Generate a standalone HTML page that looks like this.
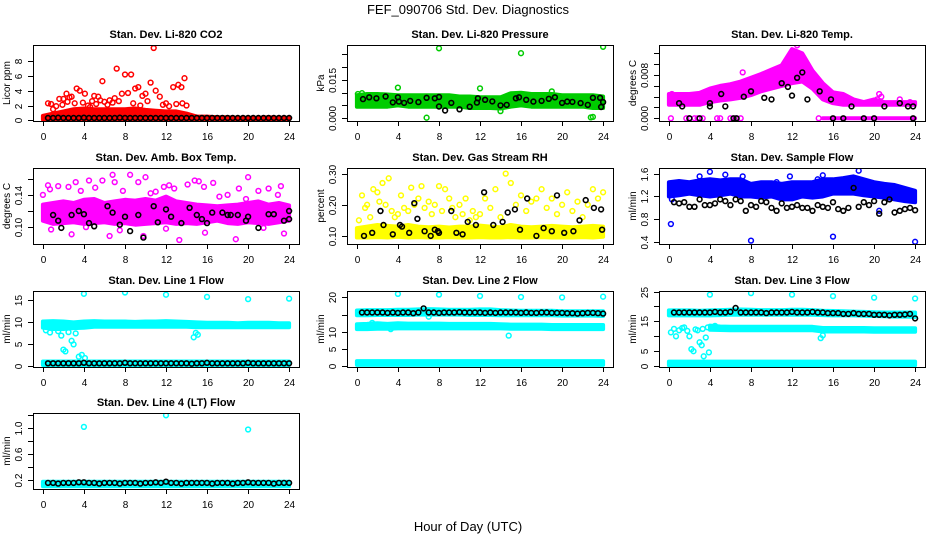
<!DOCTYPE html>
<html><head><meta charset="utf-8"><style>
html,body{margin:0;padding:0;background:#fff;}
svg{display:block;font-family:"Liberation Sans",Arial,sans-serif;}
</style></head><body>
<svg id="chart" width="936" height="540" viewBox="0 0 936 540">
<text x="468" y="14" text-anchor="middle" font-size="13">FEF_090706  Std. Dev. Diagnostics</text>
<text x="468" y="531" text-anchor="middle" font-size="13">Hour of Day (UTC)</text>
</svg>
<script>
// ---------- shared x data ----------
const hourGrid = [0,1,2,3,4,5,6,7,8,9,10,11,12,13,14,15,16,17,18,19,20,21,22,23,24];
const halfHours = [0.5,1,1.5,2,2.5,3,3.5,4,4.5,5,5.5,6,6.5,7,7.5,8,8.5,9,9.5,10,10.5,11,11.5,12,12.5,13,13.5,14,14.5,15,15.5,16,16.5,17,17.5,18,18.5,19,19.5,20,20.5,21,21.5,22,22.5,23,23.5,24];
const xTicks = [0,4,8,12,16,20,24];

// ---------- CO2 ----------
const co2BandLo = [0.1,0.1,0.1,0.1,0.1,0.1,0.1,0.1,0.1,0.1,0.1,0.1,0.1,0.1,0.1,0.1,0.1,0.1,0.1,0.1,0.1,0.1,0.1,0.1,0.1];
const co2BandHi = [0.6,0.9,1.2,1.5,1.6,1.5,1.5,1.5,1.5,1.6,1.4,1.3,1.2,1.2,0.9,0.5,0.5,0.4,0.4,0.35,0.35,0.35,0.4,0.35,0.35];
const co2ScatterX = [0.5,1,2,2.3,2.8,3.3,3.6,4.1,5,5.4,5.8,6.5,7,7.2,7.7,8,8.3,8.6,9,9.3,9.7,10,10.5,10.8,11,11.4,12,12.7,13.2,13.5,13.8,13.6,0.8,1.6,2.6,3.1,1.3,1.9,2.4,3.9,4.4,4.8,5.2,6,6.3,6.8,7.4,8.8,9.5,10.2,11.7,12.3,13,14,4.6,5.6];
const co2ScatterY = [2.3,1.5,2.9,3.6,3.2,4.3,4.0,3.6,3.3,3.2,5.3,2.7,3.0,7.0,3.6,6.2,3.7,6.2,4.3,4.5,3.3,3.6,5.1,9.8,4.0,3.2,2.3,4.5,4.8,4.5,5.7,2.3,2.2,2.9,3.1,2.3,1.9,2.1,2.5,2.4,2.0,2.6,2.2,2.5,2.1,2.4,2.6,2.3,2.0,2.6,2.1,1.9,2.2,2.0,1.8,2.7];
const co2Black = [0.3,0.3,0.35,0.3,0.3,0.3,0.3,0.35,0.3,0.3,0.3,0.3,0.3,0.3,0.35,0.3,0.3,0.3,0.3,0.3,0.3,0.3,0.3,0.3,0.3,0.3,0.3,0.3,0.3,0.3,0.3,0.3,0.3,0.3,0.3,0.3,0.3,0.3,0.3,0.3,0.3,0.3,0.3,0.3,0.3,0.3,0.3,0.3];

// ---------- Pressure ----------
const prBandLo = [0.0045,0.0045,0.0045,0.0045,0.005,0.0045,0.0045,0.0045,0.0045,0.0045,0.0045,0.004,0.004,0.004,0.0038,0.0045,0.005,0.0045,0.0045,0.0045,0.0045,0.0045,0.0045,0.004,0.004];
const prBandHi = [0.009,0.0095,0.0095,0.0093,0.009,0.009,0.009,0.009,0.009,0.009,0.0085,0.0085,0.0082,0.0082,0.0082,0.0098,0.01,0.0095,0.0095,0.0095,0.009,0.009,0.009,0.009,0.0085];
const prScatterX = [4,8,12,16,24,6.8,23,14,0.1,22.8,0.5,19];
const prScatterY = [0.012,0.0274,0.0117,0.0255,0.028,0.0002,0.0005,0.0028,0.0095,0.0003,0.0098,0.0105];
const prBlackX = [0.6,1.2,1.9,2.8,3.5,4,4.1,4.6,5.2,6,6.8,7.6,8,8,8.6,9.2,10,11,11.7,11.8,12.5,13.2,14,14.6,15.5,15.8,16.5,17.2,18,18.7,19.3,20,20.5,21,21.8,22.5,23,23.7,23.8,24];
const prBlackY = [0.0075,0.0082,0.0078,0.0085,0.0062,0.0082,0.0065,0.006,0.0068,0.0063,0.008,0.0078,0.0083,0.0046,0.003,0.006,0.0035,0.0045,0.0061,0.0078,0.0072,0.0066,0.005,0.0052,0.0078,0.0082,0.0072,0.0065,0.0068,0.0076,0.0082,0.006,0.0065,0.0064,0.0059,0.0052,0.008,0.008,0.0044,0.0063];

// ---------- Li-820 Temp ----------
const ltBandLo = [0.0025,0.0025,0.0025,0.0025,0.003,0.0033,0.0035,0.0038,0.0043,0.005,0.0055,0.006,0.0065,0.0068,0.0055,0.0035,0.0028,0.0025,0.0025,0.0025,0.0025,0.0025,0.0025,0.0025,0.0025];
const ltBandHi = [0.0045,0.0045,0.0045,0.0047,0.0055,0.006,0.0063,0.0068,0.0075,0.0082,0.009,0.0098,0.0128,0.012,0.0088,0.0065,0.0048,0.0045,0.0035,0.003,0.0035,0.003,0.003,0.003,0.003];
const ltZeroLo = [null,null,null,null,null,null,null,null,null,null,null,null,null,null,null,0,0,0,0,0,0,0,0,0,0];
const ltZeroHi = [null,null,null,null,null,null,null,null,null,null,null,null,null,null,null,0,0,0,0,0,0,0,0,0,0];
const ltScatterX = [0.2,0.3,1.7,2,2.5,2.8,3.3,4.7,5,6,6.5,7,7.2,14.6,20.5,20.7,20.3,22.5,23.5,12.5,8.5,9.5];
const ltScatterY = [0,0.0045,0,0,0,0,0,0,0,0,0,0,0.0085,0,0.0045,0.004,0.0035,0.0035,0.003,0.0135,0.0075,0.0078];
const ltBlackX = [1,1.3,2,3,4,4,5.1,5.5,6.3,6.6,7.3,8,9.3,10,11,11.6,12,12.5,13,13.5,14.7,15.8,16,17,17.8,19,20,21,22.5,23.3,23.8,23.8];
const ltBlackY = [0.0028,0.0022,0,0,0.0028,0.0022,0.0045,0.0022,0,0,0.004,0.005,0.0038,0.0035,0.0065,0.0058,0.0042,0.0075,0.0085,0.0035,0.005,0.0035,0,0,0.0022,0,0,0.0022,0.0028,0.0022,0.0022,0];

// ---------- Amb Box Temp ----------
const abBandLo = [0.108,0.104,0.105,0.106,0.104,0.105,0.106,0.104,0.105,0.103,0.104,0.105,0.106,0.104,0.105,0.104,0.106,0.108,0.105,0.104,0.106,0.105,0.104,0.106,0.108];
const abBandHi = [0.128,0.13,0.132,0.13,0.134,0.135,0.13,0.132,0.134,0.133,0.135,0.133,0.138,0.132,0.13,0.128,0.127,0.126,0.127,0.128,0.13,0.132,0.128,0.13,0.127];
const abScatterX = [0,0.5,0.7,1.5,2.5,3.2,3.7,4.5,5.1,5.8,6.8,7,7.8,8.5,9.3,10,10.5,11,11.8,12.3,12.8,13.4,14.1,14.8,15.2,15.7,16.6,17.2,18,19.1,19.8,20,21,22,22.9,23.2,0.8,2.8,6.5,9.8,13.3,15.8,18.8,21.5,23.5,12,7.5,4.2];
const abScatterY = [0.14,0.152,0.147,0.151,0.15,0.156,0.145,0.158,0.149,0.158,0.165,0.156,0.145,0.165,0.156,0.162,0.142,0.144,0.15,0.152,0.148,0.178,0.153,0.158,0.157,0.15,0.155,0.138,0.14,0.148,0.135,0.162,0.145,0.148,0.14,0.151,0.097,0.091,0.089,0.089,0.084,0.093,0.085,0.099,0.092,0.098,0.096,0.1];
const abBlackX = [1,1.5,1.8,2.8,3.5,4,4.5,5,6.3,6.8,7.5,8,8.5,9.3,9.8,10.8,11.2,12,12.5,13.5,14.3,15,15.5,16,16.5,17.5,18,18.3,19,19.8,20,21,22,22.5,23.5,24,24];
const abBlackY = [0.115,0.108,0.099,0.115,0.12,0.116,0.105,0.101,0.126,0.118,0.103,0.113,0.095,0.115,0.087,0.126,0.106,0.122,0.113,0.105,0.124,0.115,0.11,0.105,0.118,0.118,0.115,0.115,0.115,0.108,0.113,0.099,0.116,0.116,0.108,0.12,0.11];

// ---------- Gas Stream RH ----------
const rhBandLo = [0.095,0.095,0.096,0.095,0.097,0.095,0.096,0.095,0.095,0.096,0.095,0.095,0.096,0.095,0.095,0.096,0.095,0.095,0.096,0.095,0.095,0.095,0.096,0.095,0.097];
const rhBandHi = [0.125,0.13,0.135,0.132,0.13,0.135,0.13,0.128,0.13,0.127,0.13,0.13,0.133,0.13,0.128,0.135,0.13,0.128,0.13,0.132,0.13,0.128,0.13,0.132,0.13];
const rhScatterX = [0.2,0.5,0.8,1,1.3,1.6,2,2.2,2.5,2.8,3.1,3.4,3.7,4,4.3,4.6,5,5.3,5.6,6,6.3,6.6,7,7.3,7.6,8,8.3,8.6,9,9.3,9.6,10,10.3,10.6,11,11.3,11.6,12,12.5,13,13.5,14,14.5,15,15.5,16,16.5,17,17.5,18,18.5,19,19.5,20,20.5,21,21.5,22,22.5,23,23.5,24];
const rhScatterY = [0.15,0.23,0.19,0.2,0.16,0.25,0.24,0.21,0.27,0.2,0.285,0.18,0.16,0.17,0.23,0.19,0.18,0.255,0.2,0.22,0.26,0.19,0.21,0.17,0.2,0.26,0.18,0.25,0.22,0.19,0.16,0.2,0.17,0.22,0.15,0.18,0.16,0.17,0.22,0.19,0.25,0.16,0.3,0.27,0.2,0.23,0.18,0.21,0.22,0.25,0.19,0.22,0.17,0.2,0.24,0.18,0.21,0.16,0.2,0.25,0.22,0.24];
const rhBlackX = [0.7,1.5,2.3,2.6,3.5,4.2,4.4,5.1,5.6,5.9,6.6,7.2,7.6,7.9,8,9.2,9.7,10.3,10.8,11.6,12.4,13.3,14.2,14.7,15.4,15.9,16.6,17.5,18.2,19,19.5,20.2,21.1,21.7,22.3,23.1,23.8,23.9];
const rhBlackY = [0.1,0.11,0.18,0.135,0.105,0.135,0.13,0.11,0.205,0.155,0.115,0.1,0.12,0.115,0.11,0.18,0.11,0.105,0.145,0.135,0.24,0.135,0.145,0.175,0.185,0.12,0.22,0.1,0.125,0.115,0.23,0.11,0.115,0.15,0.215,0.19,0.185,0.12];

// ---------- Sample Flow ----------
const sfBandLo = [1.2,1.22,1.25,1.22,1.2,1.22,1.25,1.2,1.2,1.18,1.2,1.15,1.15,1.2,1.18,1.2,1.25,1.25,1.25,1.22,1.2,1.18,1.15,1.12,1.1];
const sfBandHi = [1.45,1.47,1.45,1.48,1.5,1.48,1.5,1.5,1.42,1.45,1.45,1.42,1.45,1.45,1.45,1.5,1.5,1.52,1.55,1.5,1.45,1.42,1.4,1.35,1.3];
const sfScatterX = [0.2,4,5.5,7.2,8,16,24,18.5,3,10.5,14.5,15,0.3,11.8,20.5];
const sfScatterY = [0.72,1.63,1.58,1.55,0.43,0.5,0.41,1.65,1.55,1.45,1.5,1.57,1.15,1.55,0.95];
const sfBlack = [1.1,1.08,1.1,1.02,1.02,1.15,1.05,1.05,1.08,1.15,1.12,1.05,1.15,1.12,0.95,1.05,1.02,1.12,1.1,1,0.95,1.08,1,1.02,1.05,1,1,0.95,1.05,1.02,1.0,1.1,0.98,0.95,1.0,1.35,1.02,1.1,1.05,1.12,0.9,1.1,1.15,0.92,0.95,0.98,1.0,0.96];

// ---------- Line 1 Flow ----------
const l1UpperLo = [8.8,8.5,8.5,8.7,8.8,9,9,9,9,9,9,9,9,9,9,8.9,8.9,8.9,8.9,8.9,8.9,8.9,8.9,8.9,8.9];
const l1UpperHi = [10.2,10.3,10.2,10,10.2,10.3,10.2,10.2,10.2,10.1,10.2,10.2,10.3,10.2,10.1,10,9.9,9.9,9.9,9.8,9.9,9.9,9.9,9.8,9.8];
const l1LowerLo = [0.3,0.3,0.3,0.3,0.3,0.3,0.3,0.3,0.3,0.3,0.3,0.3,0.3,0.3,0.3,0.3,0.3,0.3,0.3,0.3,0.3,0.3,0.3,0.3,0.3];
const l1LowerHi = [1.1,1.1,1.1,1.1,1.1,1.1,1.1,1.1,1.1,1.1,1.1,1.1,1.1,1.1,1.1,1.1,1.1,1.1,1.1,1.1,1.1,1.1,1.1,1.1,1.1];
const l1ScatterX = [4,8,12,16,20,24,0.3,0.7,1.5,1.8,2,2.2,2.5,2.8,3,3.2,3.5,3.8,4.1,14.7,14.9,15.1];
const l1ScatterY = [16.5,16.8,16.3,15.8,15.3,15.4,8.2,7.7,8,7,3.8,3.4,7.8,5.8,5,7.5,2.2,2.6,1.9,6.6,7.6,7.2];
const l1Black = [0.7,0.7,0.7,0.7,0.7,0.7,0.7,0.8,0.7,0.7,0.7,0.7,0.7,0.7,0.7,0.8,0.7,0.7,0.7,0.7,0.7,0.7,0.7,0.7,0.7,0.7,0.7,0.7,0.6,0.7,0.7,0.8,0.7,0.7,0.7,0.7,0.7,0.7,0.7,0.8,0.7,0.7,0.7,0.7,0.7,0.7,0.7,0.7];

// ---------- Line 2 Flow ----------
const l2TopLo = [14.8,14.8,14.9,14.9,14.9,14.9,15,15,15,15,15,14.9,14.9,14.9,14.8,14.8,14.8,14.8,14.8,14.8,14.7,14.7,14.7,14.7,14.6];
const l2TopHi = [16.2,16.3,16.3,16.3,16.4,16.4,16.5,16.6,16.5,16.4,16.4,16.4,16.5,16.5,16.3,16.2,16.1,16.1,16.1,16.1,16,16,16,16,16];
const l2MidLo = [10.8,10.8,10.9,10.9,11,11,11,11,11,11,11,11,11,11,11,10.9,10.9,10.9,10.9,10.8,10.8,10.8,10.8,10.8,10.8];
const l2MidHi = [12.2,12.3,12.5,12.3,12.5,12.4,12.4,12.4,12.4,12.3,12.3,12.3,12.3,12.3,12.2,12.1,12.1,12.1,12.1,12,12,12,12,12,12];
const l2LowLo = [0.4,0.4,0.4,0.4,0.4,0.4,0.4,0.4,0.4,0.4,0.4,0.4,0.4,0.4,0.4,0.4,0.4,0.4,0.4,0.4,0.4,0.4,0.4,0.4,0.4];
const l2LowHi = [1.5,1.5,1.5,1.5,1.5,1.5,1.5,1.5,1.5,1.5,1.5,1.5,1.5,1.5,1.5,1.5,1.5,1.5,1.5,1.5,1.5,1.5,1.5,1.5,1.5];
const l2ScatterX = [4,8,12,16,20,24,14.8,3.3,7,1.5];
const l2ScatterY = [21,20.8,20.4,20.1,20,20.2,8.9,10.8,14.4,12.6];
const l2Black = [15.6,15.6,15.6,15.6,15.6,15.5,15.6,15.5,15.6,15.6,15.4,15.6,16.8,15.6,15.6,15.5,15.6,15.6,15.6,15.7,15.6,15.6,15.6,15.6,15.5,15.6,15.5,15.6,15.6,15.6,15.6,15.5,15.6,15.5,15.5,15.6,15.6,15.5,15.5,15.5,15.4,15.4,15.3,15.4,15.5,15.5,15.4,15.3];

// ---------- Line 3 Flow ----------
const l3TopLo = [17,17,17,17,17,17.1,17.2,17.2,17.2,17.2,17.2,17.2,17.2,17.2,17.2,17.1,17,17,17,16.9,16.8,16.7,16.6,16.6,16.5];
const l3TopHi = [18.7,18.7,18.7,18.6,18.7,18.8,18.9,19,18.9,18.8,18.8,18.8,18.9,18.9,18.8,18.6,18.5,18.4,18.3,18.2,18.1,18,18,18,18];
const l3MidLo = [null,null,null,null,12.2,12.1,12,12,12,12,12,12,12,12,12,11.6,11.6,11.6,11.6,11.6,11.5,11.5,11.5,11.5,11.5];
const l3MidHi = [null,null,null,null,13.6,13.3,13.2,13.2,13.2,13.2,13.2,13.2,13.2,13.2,13.2,12.8,12.8,12.8,12.8,12.8,12.7,12.7,12.7,12.7,12.7];
const l3LowLo = [0.3,0.3,0.3,0.3,0.3,0.3,0.3,0.3,0.3,0.3,0.3,0.3,0.3,0.3,0.3,0.3,0.3,0.3,0.3,0.3,0.3,0.3,0.3,0.3,0.3];
const l3LowHi = [1.5,1.5,1.5,1.5,1.5,1.5,1.5,1.5,1.5,1.5,1.5,1.5,1.5,1.5,1.5,1.5,1.5,1.5,1.5,1.5,1.5,1.5,1.5,1.5,1.5];
const l3ScatterX = [4,8,12,16,20,24,0.2,0.7,1,1.5,2,2.2,2.4,2.8,3,3.2,3.4,3.6,3.8,3.9,4.5,14.8,15,0.5,1.3,1.8,2.6,3.3];
const l3ScatterY = [24,24.5,24,23.5,23,22.7,11.3,10,12,13,10,5.7,5,12,8,7,3.3,9.6,13,4.6,13.5,9.4,10.3,12.5,12.8,11.8,12.3,12.5];
const l3Black = [18,18,18,18,18,18,18,18,18.2,18,18,18.2,19.5,18,18,18,18,18,17.8,18,18,18,18,18.2,18,18,18,18.2,18,18,17.8,17.8,17.8,17.5,17.5,17.8,17.5,17.5,17.5,17.2,17.2,17.2,17,17.2,17.2,17.3,17.5,16];

// ---------- Line 4 Flow ----------
const l4BandLo = [0.1,0.1,0.1,0.1,0.1,0.1,0.1,0.1,0.1,0.1,0.1,0.1,0.1,0.1,0.1,0.1,0.1,0.1,0.1,0.1,0.1,0.1,0.1,0.1,0.1];
const l4BandHi = [0.17,0.17,0.17,0.17,0.17,0.17,0.17,0.17,0.17,0.17,0.17,0.17,0.17,0.17,0.17,0.17,0.17,0.17,0.17,0.17,0.17,0.17,0.17,0.17,0.17];
const l4ScatterX = [4,12,20];
const l4ScatterY = [1.02,1.2,0.98];
const l4Black = [0.15,0.15,0.14,0.15,0.15,0.15,0.16,0.16,0.15,0.15,0.14,0.15,0.15,0.15,0.14,0.15,0.15,0.15,0.14,0.15,0.15,0.16,0.15,0.17,0.15,0.15,0.14,0.15,0.15,0.15,0.15,0.15,0.14,0.15,0.15,0.15,0.14,0.15,0.15,0.16,0.15,0.15,0.15,0.15,0.14,0.15,0.15,0.15];

// ---------- layout ----------
const svg = document.getElementById('chart');
const NS = 'http://www.w3.org/2000/svg';
const colLeft = [33, 347, 659];
const rowTop = [45, 168, 291, 413];
const boxW = 266, boxH = 76;

const panels = [
 {key:'co2', title:'Stan. Dev. Li-820 CO2', ylab:'Licor ppm', col:'#ff0000', dom:[-0.1,10.2], ticks:[0,2,4,6,8], labels:['0','2','4','6','8'],
  bands:[[co2BandLo,co2BandHi]], sx:co2ScatterX, sy:co2ScatterY, bx:halfHours, by:co2Black},
 {key:'pressure', title:'Stan. Dev. Li-820 Pressure', ylab:'kPa', col:'#00cc00', dom:[-0.0011,0.0287], ticks:[0,0.005,0.01,0.015,0.02,0.025], labels:['0.000','','','0.015','',''],
  bands:[[prBandLo,prBandHi]], sx:prScatterX, sy:prScatterY, bx:prBlackX, by:prBlackY},
 {key:'li820-temp', title:'Stan. Dev. Li-820 Temp.', ylab:'degrees C', col:'#ff00ff', dom:[-0.0005,0.01356], ticks:[0,0.002,0.004,0.006,0.008,0.010,0.012], labels:['0.000','','','','0.008','',''],
  bands:[[ltBandLo,ltBandHi],[ltZeroLo,ltZeroHi]], sx:ltScatterX, sy:ltScatterY, bx:ltBlackX, by:ltBlackY},
 {key:'amb-box-temp', title:'Stan. Dev. Amb. Box Temp.', ylab:'degrees C', col:'#ff00ff', dom:[0.079,0.1735], ticks:[0.10,0.12,0.14,0.16], labels:['0.10','','0.14',''],
  bands:[[abBandLo,abBandHi]], sx:abScatterX, sy:abScatterY, bx:abBlackX, by:abBlackY},
 {key:'gas-stream-rh', title:'Stan. Dev. Gas Stream RH', ylab:'percent', col:'#ffff00', dom:[0.074,0.318], ticks:[0.10,0.20,0.30], labels:['0.10','0.20','0.30'],
  bands:[[rhBandLo,rhBandHi]], sx:rhScatterX, sy:rhScatterY, bx:rhBlackX, by:rhBlackY},
 {key:'sample-flow', title:'Stan. Dev. Sample Flow', ylab:'ml/min', col:'#0000ff', dom:[0.371,1.697], ticks:[0.4,0.8,1.2,1.6], labels:['0.4','0.8','1.2','1.6'],
  bands:[[sfBandLo,sfBandHi]], sx:sfScatterX, sy:sfScatterY, bx:halfHours, by:sfBlack},
 {key:'line1-flow', title:'Stan. Dev. Line 1 Flow', ylab:'ml/min', col:'#00ffff', dom:[-0.15,17.14], ticks:[0,5,10,15], labels:['0','5','10','15'],
  bands:[[l1UpperLo,l1UpperHi],[l1LowerLo,l1LowerHi]], sx:l1ScatterX, sy:l1ScatterY, bx:halfHours, by:l1Black},
 {key:'line2-flow', title:'Stan. Dev. Line 2 Flow', ylab:'ml/min', col:'#00ffff', dom:[-0.2,21.85], ticks:[0,5,10,15,20], labels:['0','5','10','','20'],
  bands:[[l2TopLo,l2TopHi],[l2MidLo,l2MidHi],[l2LowLo,l2LowHi]], sx:l2ScatterX, sy:l2ScatterY, bx:halfHours, by:l2Black},
 {key:'line3-flow', title:'Stan. Dev. Line 3 Flow', ylab:'ml/min', col:'#00ffff', dom:[-0.3,25.2], ticks:[0,5,10,15,20,25], labels:['0','5','','15','','25'],
  bands:[[l3TopLo,l3TopHi],[l3MidLo,l3MidHi],[l3LowLo,l3LowHi]], sx:l3ScatterX, sy:l3ScatterY, bx:halfHours, by:l3Black},
 {key:'line4-flow', title:'Stan. Dev. Line 4 (LT) Flow', ylab:'ml/min', col:'#00ffff', dom:[0.056,1.236], ticks:[0.2,0.4,0.6,0.8,1.0,1.2], labels:['0.2','','0.6','','1.0',''],
  bands:[[l4BandLo,l4BandHi]], sx:l4ScatterX, sy:l4ScatterY, bx:halfHours, by:l4Black}
];

function mk(tag, attrs, parent){
  const e = document.createElementNS(NS, tag);
  for (const k in attrs) e.setAttribute(k, attrs[k]);
  (parent||svg).appendChild(e);
  return e;
}

panels.forEach((p, i) => {
  const L = colLeft[i % 3], T = rowTop[Math.floor(i / 3)];
  const xPad = boxW * 0.04 / 1.08;
  const xScale = h => L + xPad + (h / 24) * (boxW - 2 * xPad);
  const yScale = v => T + boxH - (v - p.dom[0]) / (p.dom[1] - p.dom[0]) * boxH;

  const g = mk('g', {});
  
  

  const clipId = 'clip' + i;
  const cp = mk('clipPath', {id: clipId}, g);
  mk('rect', {x: L, y: T, width: boxW, height: boxH}, cp);
  const plot = mk('g', {'clip-path': 'url(#' + clipId + ')'}, g);

  p.bands.forEach((b, bi) => {
    const lo = b[0], hi = b[1];
    let seg = [];
    const segs = [];
    hourGrid.forEach((h, k) => {
      if (lo[k] === null || hi[k] === null) { if (seg.length) segs.push(seg); seg = []; }
      else seg.push(k);
    });
    if (seg.length) segs.push(seg);
    segs.forEach(s => {
      let d = '';
      s.forEach((k, j) => { d += (j ? 'L' : 'M') + xScale(hourGrid[k]).toFixed(1) + ',' + yScale(hi[k]).toFixed(1); });
      s.slice().reverse().forEach(k => { d += 'L' + xScale(hourGrid[k]).toFixed(1) + ',' + yScale(lo[k]).toFixed(1); });
      d += 'Z';
      const path = mk('path', {d: d, fill: p.col, stroke: p.col, 'stroke-width': 4, 'stroke-linejoin': 'round'}, plot);
      
      
    });
  });

  const n = Math.min(p.sx.length, p.sy.length);
  for (let k = 0; k < n; k++) {
    const c = mk('circle', {cx: xScale(p.sx[k]).toFixed(1), cy: yScale(p.sy[k]).toFixed(1), r: 2.4, fill: 'none', stroke: p.col, 'stroke-width': 1.5}, plot);
    
    
  }
  const m = Math.min(p.bx.length, p.by.length);
  for (let k = 0; k < m; k++) {
    const c = mk('circle', {cx: xScale(p.bx[k]).toFixed(1), cy: yScale(p.by[k]).toFixed(1), r: 2.4, fill: 'none', stroke: '#000', 'stroke-width': 1.6}, plot);
    
    
  }

  const box = mk('rect', {x: L + 0.5, y: T + 0.5, width: boxW, height: boxH, fill: 'none', stroke: '#000', 'stroke-width': 1}, g);
  
  

  const t = mk('text', {x: L + boxW / 2, y: T - 7, 'text-anchor': 'middle', 'font-size': 11, 'font-weight': 'bold'}, g);
  t.textContent = p.title;
  
  

  xTicks.forEach(h => {
    const x = Math.round(xScale(h)) + 0.5;
    mk('line', {x1: x, x2: x, y1: T + boxH, y2: T + boxH + 5, stroke: '#000'}, g);
    const tl = mk('text', {x: x, y: T + boxH + 19, 'text-anchor': 'middle', 'font-size': 10}, g);
    tl.textContent = h;
    
    
  });

  p.ticks.forEach((v, k) => {
    const y = Math.round(yScale(v)) + 0.5;
    mk('line', {x1: L - 5, x2: L, y1: y, y2: y, stroke: '#000'}, g);
    if (p.labels[k]) {
      const yl = mk('text', {x: 0, y: 0, 'text-anchor': 'middle', 'font-size': 10, transform: 'translate(' + (L - 11) + ',' + y + ') rotate(-90)'}, g);
      yl.textContent = p.labels[k];
      
      
    }
  });
  const yt = mk('text', {x: 0, y: 0, 'text-anchor': 'middle', 'font-size': 10, transform: 'translate(' + (L - 23) + ',' + (T + boxH / 2) + ') rotate(-90)'}, g);
  yt.textContent = p.ylab;
  
  
});
</script>
</body></html>
